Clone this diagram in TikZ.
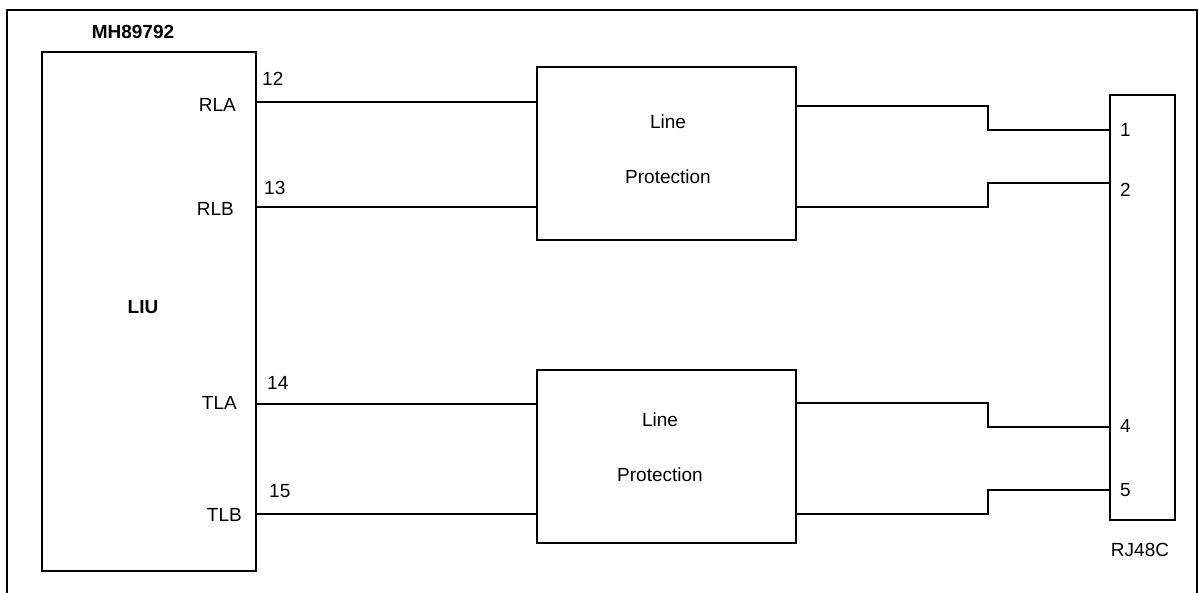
\documentclass[tikz,border=0pt]{standalone}
\usepackage{fontspec}
\setmainfont{Liberation Sans}
\begin{document}
\begin{tikzpicture}[x=1pt,y=-1pt,
  wire/.style={line width=2pt},
  box/.style={draw,line width=2pt,inner sep=0pt,anchor=north west},
  txt/.style={inner sep=0pt,font=\fontsize{19}{22}\selectfont},
  btxt/.style={inner sep=0pt,font=\fontsize{19}{22}\selectfont\bfseries}]
\useasboundingbox (0,0) rectangle (1199,593);
% outer frame (open at bottom)
\draw[wire] (7,593) -- (7,10) -- (1197,10) -- (1197,593);
% boxes
\node[box,minimum width=214pt,minimum height=519pt] (liu) at (41,51) {};
\node[box,minimum width=259pt,minimum height=173pt] (lp1) at (536,66) {};
\node[box,minimum width=259pt,minimum height=173pt] (lp2) at (536,369) {};
\node[box,minimum width=65pt,minimum height=425pt] (rj) at (1109,94) {};
% box texts
\node[btxt] (mh) at (133,32) {MH89792};
\node[btxt] (liut) at (143,307) {LIU};
\node[txt,align=center] (lp1t) at (668,149.5) {Line\\[33pt]Protection};
\node[txt,align=center] (lp2t) at (660,447.5) {Line\\[33pt]Protection};
\node[txt] (rjt) at (1140,550) {RJ48C};
% pin names
\node[txt,anchor=east] (rla) at (236,105) {RLA};
\node[txt,anchor=east] (rlb) at (234,209) {RLB};
\node[txt,anchor=east] (tla) at (237,402.5) {TLA};
\node[txt,anchor=east] (tlb) at (242,515) {TLB};
% pin numbers
\node[txt,anchor=west] (n12) at (262,79) {12};
\node[txt,anchor=west] (n13) at (264,188) {13};
\node[txt,anchor=west] (n14) at (267,382.5) {14};
\node[txt,anchor=west] (n15) at (269,491.5) {15};
\node[txt,anchor=west] (p1) at (1120,130) {1};
\node[txt,anchor=west] (p2) at (1120,190) {2};
\node[txt,anchor=west] (p4) at (1120,425.5) {4};
\node[txt,anchor=west] (p5) at (1120,490) {5};
% connection points
\coordinate (a1) at (liu.east |- 0,102.5);
\coordinate (a2) at (liu.east |- 0,206.7);
\coordinate (a3) at (liu.east |- 0,403.5);
\coordinate (a4) at (liu.east |- 0,514);
\coordinate (b1) at (lp1.west |- 0,102.5);
\coordinate (b2) at (lp1.west |- 0,206.7);
\coordinate (b3) at (lp2.west |- 0,403.5);
\coordinate (b4) at (lp2.west |- 0,514);
\coordinate (c1) at (lp1.east |- 0,106);
\coordinate (c2) at (lp1.east |- 0,206.7);
\coordinate (c3) at (lp2.east |- 0,402.7);
\coordinate (c4) at (lp2.east |- 0,514);
\coordinate (d1) at (rj.west |- 0,130);
\coordinate (d2) at (rj.west |- 0,182.7);
\coordinate (d3) at (rj.west |- 0,426.7);
\coordinate (d4) at (rj.west |- 0,490);
% wires
\draw[wire] (a1) -- (b1);
\draw[wire] (a2) -- (b2);
\draw[wire] (a3) -- (b3);
\draw[wire] (a4) -- (b4);
\draw[wire] (c1) -- (988,106) -- (988,130) -- (d1);
\draw[wire] (c2) -- (988,206.7) -- (988,182.7) -- (d2);
\draw[wire] (c3) -- (988,402.7) -- (988,426.7) -- (d3);
\draw[wire] (c4) -- (988,514) -- (988,490) -- (d4);
\end{tikzpicture}
\end{document}
